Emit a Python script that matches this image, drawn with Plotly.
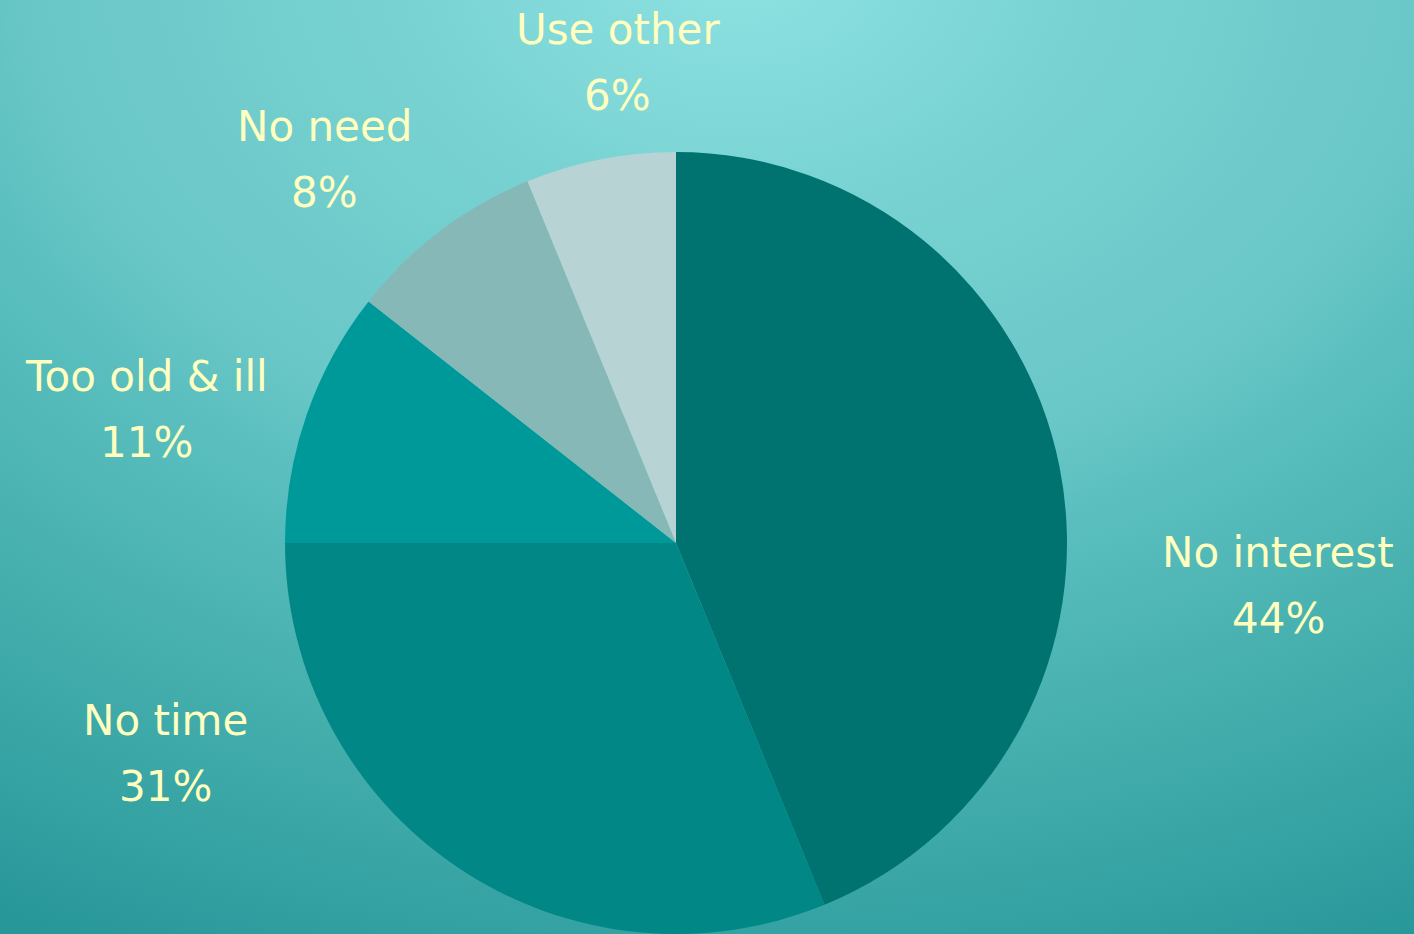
import base64
import plotly.graph_objects as go

labels = ["No interest", "No time", "Too old & ill", "No need", "Use other"]
values = [43.8, 31.2, 10.6, 8.2, 6.2]
colors = ["#007370", "#008786", "#009999", "#86b8b8", "#b8d3d4"]

# label anchor positions (paper fractions) for the outside labels
label_x = [0.904, 0.1167, 0.1033, 0.2298, 0.437]
label_y = [0.408, 0.229, 0.597, 0.865, 0.968]

W, H = 1414, 934

svg = f'''<svg xmlns="http://www.w3.org/2000/svg" width="{W}" height="{H}" viewBox="0 0 {W} {H}">
<defs><radialGradient id="g" gradientUnits="userSpaceOnUse" cx="740" cy="-40" r="1100"
 gradientTransform="translate(740,-40) scale(1.36,1) translate(-740,40)">
<stop offset="0" stop-color="#8ee2e2"/>
<stop offset="0.235" stop-color="#78d2d2"/>
<stop offset="0.47" stop-color="#6ac7c7"/>
<stop offset="0.55" stop-color="#5bbfbf"/>
<stop offset="0.73" stop-color="#46b0ae"/>
<stop offset="1" stop-color="#28979a"/>
</radialGradient></defs>
<rect width="{W}" height="{H}" fill="url(#g)"/></svg>'''
src = "data:image/svg+xml;base64," + base64.b64encode(svg.encode()).decode()

fig = go.Figure()
fig.add_trace(go.Pie(
    labels=labels, values=values, sort=False, direction="clockwise", rotation=0,
    marker=dict(colors=colors, line=dict(width=0)),
    textinfo="none", hoverinfo="label+percent", showlegend=False,
    domain=dict(x=[285 / W, 1067 / W], y=[0, 782 / H]),
))

total = sum(values)
font = dict(family="DejaVu Sans, sans-serif", size=42, color="#ffffc0")
for lab, v, x, y in zip(labels, values, label_x, label_y):
    fig.add_annotation(x=x, y=y, xref="paper", yref="paper", text=lab,
                       showarrow=False, font=font, xanchor="center", yanchor="middle")
    fig.add_annotation(x=x, y=y - 66 / H, xref="paper", yref="paper",
                       text=f"{round(100 * v / total)}%",
                       showarrow=False, font=font, xanchor="center", yanchor="middle")

fig.update_layout(
    width=W, height=H, margin=dict(l=0, r=0, t=0, b=0),
    paper_bgcolor="#5bbcbc", plot_bgcolor="rgba(0,0,0,0)",
    images=[dict(source=src, xref="paper", yref="paper", x=0, y=1, sizex=1, sizey=1,
                 xanchor="left", yanchor="top", sizing="stretch", layer="below")],
)
fig.write_html("out.html", config={"displayModeBar": False},
               post_script="document.body.style.margin='0';document.body.style.overflow='hidden';")
